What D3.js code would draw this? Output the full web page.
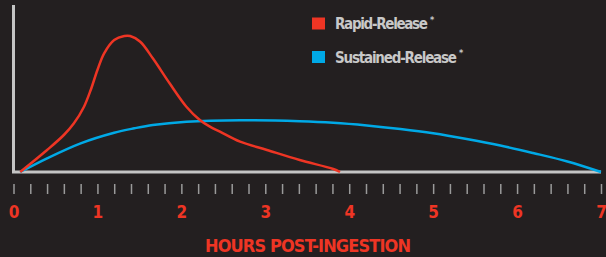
<!DOCTYPE html>
<html>
<head>
<meta charset="utf-8">
<script src="https://cdn.jsdelivr.net/npm/d3@7"></script>
<style>
  html, body { margin: 0; padding: 0; background: #231f20; }
  svg { display: block; }
  text { font-family: "Liberation Sans Narrow", "DejaVu Sans Condensed", "Roboto Condensed", sans-serif; font-weight: bold; }
</style>
</head>
<body>
<svg id="chart" width="606" height="257"></svg>
<script>
// Data (hours post-ingestion, relative concentration)
const rapidHours  = [0.08, 0.40, 0.60, 0.72, 0.84, 0.92, 1.00, 1.08, 1.20, 1.32, 1.39, 1.51, 1.66, 1.86, 2.06, 2.22, 2.34, 2.46, 2.70, 3.02, 3.41, 3.81, 3.89];
const rapidValues = [0, 22, 37, 48.7, 65.3, 82, 102, 118.7, 132, 136, 136, 130.3, 113.7, 88.7, 65.3, 52, 45.3, 40.3, 30.3, 22, 12, 3, 0];
const sustHours   = [0.08, 0.40, 0.80, 1.20, 1.44, 1.66, 2.06, 2.70, 3.41, 3.81, 4.21, 4.61, 5.00, 5.40, 5.80, 6.19, 6.60, 7.0];
const sustValues  = [0, 13.7, 28.7, 39.3, 43.7, 47, 50.3, 51.8, 50.8, 49.3, 46.6, 43, 38.7, 33, 26.5, 19, 10.5, 0];
const xTickLabels = [0, 1, 2, 3, 4, 5, 6, 7];
const minorTicks  = d3.range(0, 36).map(i => i * 0.2);
const seriesNames = ["Rapid-Release", "Sustained-Release"];
const seriesColors = ["#ee3524", "#00a9e6"];
const axisTitle = "HOURS POST-INGESTION";

const svg = d3.select("#chart");
const x = d3.scaleLinear().domain([0, 7]).range([13.5, 601]);
const y = d3.scaleLinear().domain([0, 167]).range([172, 5]);

// Axes lines
svg.append("line").attr("x1", x(0)).attr("x2", x(0)).attr("y1", y(167)).attr("y2", y(0))
  .attr("stroke", "#c4c4c4").attr("stroke-width", 3);
svg.append("line").attr("x1", x(0) - 1.5).attr("x2", x(7)).attr("y1", y(0)).attr("y2", y(0))
  .attr("stroke", "#c4c4c4").attr("stroke-width", 3);

// Minor tick marks
const tickAxis = d3.axisBottom(x).tickValues(minorTicks).tickSize(10).tickFormat("");
const gt = svg.append("g").attr("transform", "translate(0,184)").call(tickAxis);
gt.select(".domain").remove();
gt.selectAll(".tick line").attr("stroke", "#9a9a9a").attr("stroke-width", 1.5);

// Tick labels
const labelAxis = d3.axisBottom(x).tickValues(xTickLabels).tickSize(0).tickPadding(0).tickFormat(d3.format("d"));
const gl = svg.append("g").attr("transform", "translate(0,205)").call(labelAxis);
gl.select(".domain").remove();
gl.selectAll(".tick text").attr("fill", "#ee3524").attr("font-size", 17)
  .attr("font-family", null).attr("dy", "0.75em");

// Axis title
svg.append("text").attr("x", 308).attr("y", 251.5).attr("text-anchor", "middle")
  .attr("fill", "#ee3524").attr("font-size", 18).attr("textLength", 206).attr("lengthAdjust", "spacing")
  .text(axisTitle);

// Lines
const line = d3.line().x(d => x(d[0])).y(d => y(d[1])).curve(d3.curveCatmullRom.alpha(0.5));
const rapid = d3.zip(rapidHours, rapidValues);
const sust = d3.zip(sustHours, sustValues);
svg.append("path").datum(sust).attr("d", line).attr("fill", "none")
  .attr("stroke", seriesColors[1]).attr("stroke-width", 2.5);
svg.append("path").datum(rapid).attr("d", line).attr("fill", "none")
  .attr("stroke", seriesColors[0]).attr("stroke-width", 2.5);

// Legend
const legendY = [17.5, 51];
const legendLen = [93, 122];
seriesNames.forEach((name, i) => {
  svg.append("rect").attr("x", 312).attr("y", legendY[i]).attr("width", 13).attr("height", 12)
    .attr("fill", seriesColors[i]);
  svg.append("text").attr("x", 335).attr("y", legendY[i] + 11.5).attr("fill", "#c8c8c8")
    .attr("font-size", 15).attr("textLength", legendLen[i]).attr("lengthAdjust", "spacing")
    .text(name);
  svg.append("text").attr("x", 335 + legendLen[i] + 2).attr("y", legendY[i] + 5)
    .attr("fill", "#c8c8c8").attr("font-size", 9).text("*");
});
</script>
</body>
</html>
